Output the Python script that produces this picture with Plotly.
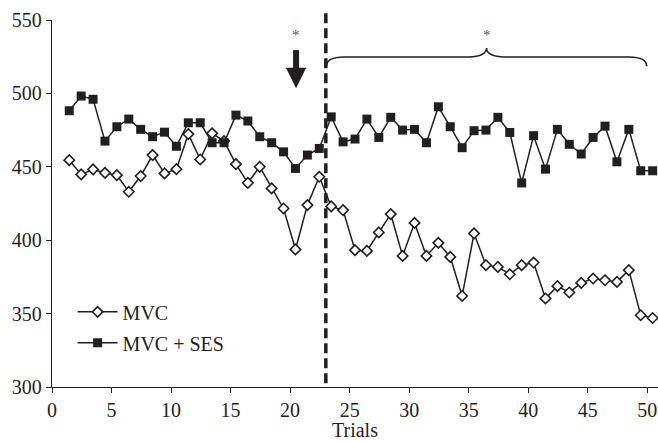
import plotly.graph_objects as go

# ---- data ----
trials = list(range(1, 51))
mvc = [454.5, 444.8, 448.2, 445.9, 444.3, 433.0, 443.7, 458.0, 445.5, 448.4,
       472.3, 455.0, 472.8, 467.5, 451.8, 439.0, 450.0, 435.3, 421.6, 393.7,
       423.9, 443.2, 423.0, 420.5, 393.2, 392.7, 405.3, 417.8, 389.3, 411.8,
       389.3, 398.2, 388.6, 362.0, 404.6, 383.0, 381.8, 376.8, 383.0, 384.8,
       360.3, 368.7, 364.4, 370.9, 373.9, 372.7, 371.6, 379.6, 348.9, 347.0]
mvc_ses = [488.2, 498.2, 496.0, 467.5, 477.3, 482.5, 475.5, 470.5, 473.6, 464.0,
           480.0, 480.0, 466.4, 466.4, 485.2, 481.2, 470.5, 466.4, 460.2, 448.9,
           458.0, 462.5, 484.0, 467.0, 468.9, 482.5, 470.0, 483.7, 475.0, 475.5,
           466.4, 490.9, 477.3, 463.0, 474.6, 475.0, 483.7, 473.4, 439.0, 471.2,
           448.4, 475.5, 465.3, 458.7, 470.0, 477.7, 453.4, 475.5, 447.3, 447.3]
x_ticks = [0, 5, 10, 15, 20, 25, 30, 35, 40, 45, 50]
y_ticks = [300, 350, 400, 450, 500, 550]
intervention_trial = 23
arrow_trial = 20.5

x_offset = 0.45
xs = [t + x_offset for t in trials]

ink = "#231f20"
font_family = "Liberation Serif, Times New Roman, serif"

fig = go.Figure()
fig.add_trace(go.Scatter(
    x=xs, y=mvc, mode="lines+markers", name="MVC", legendgroup="a",
    line=dict(color=ink, width=1.5),
    marker=dict(symbol="diamond", size=8, color="white", line=dict(color=ink, width=1.6)),
))
fig.add_trace(go.Scatter(
    x=xs, y=mvc_ses, mode="lines+markers", name="MVC + SES", legendgroup="b",
    line=dict(color=ink, width=1.5),
    marker=dict(symbol="square", size=9, color=ink, line=dict(color=ink, width=0)),
))

# dashed intervention line
fig.add_shape(type="line", xref="x", yref="paper",
              x0=intervention_trial, x1=intervention_trial, y0=0.01, y1=1.019,
              line=dict(color=ink, width=3.5, dash="10px,5px"), layer="above")

# down arrow
fig.add_shape(type="line", xref="x", yref="y",
              x0=arrow_trial, x1=arrow_trial, y0=529.5, y1=515,
              line=dict(color=ink, width=6))
fig.add_shape(type="path", xref="x", yref="y",
              path=f"M {arrow_trial-0.85},517.5 L {arrow_trial+0.85},517.5 L {arrow_trial},503.5 Z",
              fillcolor=ink, line=dict(color=ink, width=0))

# curly brace
bl, bpk, br = 23.05, 36.5, 49.95
yh, ye, yp = 524.8, 518.5, 531.0
brace = (f"M {bl},{ye} Q {bl},{yh} {bl+1.5},{yh} L {bpk-1.8},{yh} "
         f"Q {bpk},{yh} {bpk},{yp} Q {bpk},{yh} {bpk+1.8},{yh} "
         f"L {br-1.5},{yh} Q {br},{yh} {br},{ye}")
fig.add_shape(type="path", xref="x", yref="y", path=brace,
              line=dict(color=ink, width=1.6))

# asterisks
for xa, ya in [(arrow_trial, 539.5), (bpk, 539.8)]:
    fig.add_annotation(x=xa, y=ya, xref="x", yref="y", text="*", showarrow=False,
                       font=dict(family=font_family, size=15, color="#555555"))

axis_common = dict(showline=True, linecolor=ink, linewidth=1.3, ticks="outside",
                   ticklen=5, tickwidth=1.3, tickcolor=ink, showgrid=False, zeroline=False,
                   tickfont=dict(family=font_family, size=20, color=ink))

fig.update_layout(
    width=658, height=441,
    margin=dict(l=52, r=0, t=20, b=54),
    plot_bgcolor="white", paper_bgcolor="white",
    xaxis=dict(range=[0, 50.9], tickvals=x_ticks, title=dict(text="Trials", standoff=6,
               font=dict(family=font_family, size=20, color=ink)), **axis_common),
    yaxis=dict(range=[300, 550], tickvals=y_ticks, **axis_common),
    showlegend=True,
    legend=dict(x=0.034, y=0.258, xanchor="left", yanchor="top", bgcolor="rgba(0,0,0,0)",
                font=dict(family=font_family, size=20, color=ink), itemwidth=40,
                tracegroupgap=2),
)

fig.write_html("out.html", config={"displayModeBar": False},
               post_script="document.body.style.margin='0';document.body.style.padding='0';")
